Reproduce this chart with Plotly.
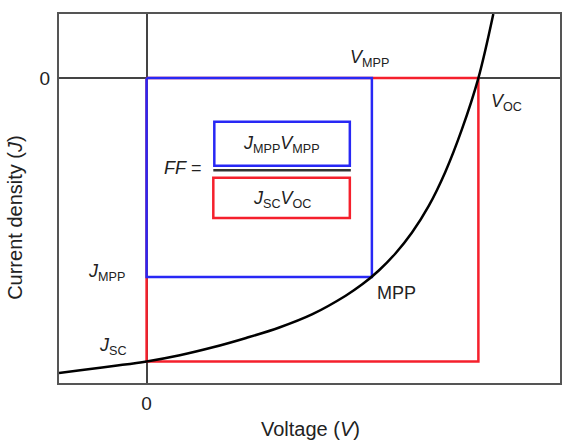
import plotly.graph_objects as go

# J-V curve (normalised: J_SC = -1, V_OC = 1)
voltage = [-0.264, -0.2, -0.1, 0.0, 0.1, 0.2, 0.3, 0.4, 0.5, 0.6,
           0.65, 0.7, 0.75, 0.8, 0.85, 0.9, 0.95, 1.0, 1.045]
current = [-1.041, -1.031, -1.016, -1.000, -0.978, -0.950, -0.917, -0.880, -0.833, -0.768,
           -0.728, -0.679, -0.619, -0.545, -0.452, -0.332, -0.182, 0.000, 0.226]

V_MPP = 0.679
J_MPP = -0.702
V_OC = 1.0
J_SC = -1.0

x_tick_vals = [0]
x_tick_text = ["0"]
y_tick_vals = [0]
y_tick_text = ["0"]

BLUE = "#2828f5"
RED = "#f5202c"
TXT = "#222222"
FONT = "Liberation Sans, Arial, sans-serif"

fig = go.Figure()

# red rectangle: J_SC * V_OC
fig.add_trace(go.Scatter(
    x=[0, V_OC, V_OC, 0, 0], y=[0, 0, J_SC, J_SC, 0],
    mode="lines", line=dict(color=RED, width=2.5), hoverinfo="skip", showlegend=False))
# blue rectangle: J_MPP * V_MPP
fig.add_trace(go.Scatter(
    x=[0, V_MPP, V_MPP, 0, 0], y=[0, 0, J_MPP, J_MPP, 0],
    mode="lines", line=dict(color=BLUE, width=2.5), hoverinfo="skip", showlegend=False))
# J-V curve
fig.add_trace(go.Scatter(
    x=voltage, y=current, mode="lines", line=dict(color="black", width=2.5, shape="spline", smoothing=1.0),
    hoverinfo="skip", showlegend=False))

# fraction boxes (decorative, paper coordinates)
fig.add_shape(type="rect", xref="paper", yref="paper", x0=0.310, x1=0.5805, y0=0.589, y1=0.708,
              line=dict(color=BLUE, width=2.5))
fig.add_shape(type="rect", xref="paper", yref="paper", x0=0.308, x1=0.5805, y0=0.447, y1=0.556,
              line=dict(color=RED, width=2.5))
fig.add_shape(type="line", xref="paper", yref="paper", x0=0.308, x1=0.5825, y0=0.5765, y1=0.5765,
              line=dict(color="#333", width=2.5))


def lab(text, x, y, size=18):
    fig.add_annotation(text=text, xref="paper", yref="paper", x=x, y=y, showarrow=False,
                       xanchor="center", yanchor="middle", font=dict(size=size, color=TXT, family=FONT))


lab("<i>V</i><sub>MPP</sub>", 0.620, 0.880)
lab("<i>V</i><sub>OC</sub>", 0.893, 0.760)
lab("<i>J</i><sub>MPP</sub>", 0.0954, 0.300)
lab("<i>J</i><sub>SC</sub>", 0.107, 0.100)
lab("MPP", 0.674, 0.244)
lab("<i>FF</i> =", 0.2485, 0.5827)
lab("<i>J</i><sub>MPP</sub><i>V</i><sub>MPP</sub>", 0.445, 0.646)
lab("<i>J</i><sub>SC</sub><i>V</i><sub>OC</sub>", 0.445, 0.4966)

# axis titles
fig.add_annotation(text="Voltage (<i>V</i>)", xref="paper", yref="paper", x=0.501, y=-0.124,
                   showarrow=False, xanchor="center", yanchor="middle",
                   font=dict(size=20, color=TXT, family=FONT))
fig.add_annotation(text="Current density (<i>J</i>)", xref="paper", yref="paper", x=-0.088, y=0.45,
                   showarrow=False, xanchor="center", yanchor="middle", textangle=-90,
                   font=dict(size=20, color=TXT, family=FONT))

axis_common = dict(showgrid=False, zeroline=True, zerolinecolor="#444", zerolinewidth=1.5,
                   showline=True, mirror=True, linecolor="#555", linewidth=2, ticks="",
                   tickfont=dict(size=19, color=TXT, family=FONT))
fig.update_xaxes(range=[-0.264, 1.246], tickvals=x_tick_vals, ticktext=x_tick_text,
                 ticklabelstandoff=2, **axis_common)
fig.update_yaxes(range=[-1.076, 0.226], tickvals=y_tick_vals, ticktext=y_tick_text,
                 ticklabelstandoff=3, **axis_common)

fig.update_layout(width=567, height=441, margin=dict(l=59, r=5, t=14, b=58),
                  paper_bgcolor="white", plot_bgcolor="white",
                  font=dict(family=FONT, color=TXT))

fig.write_html("out.html")
